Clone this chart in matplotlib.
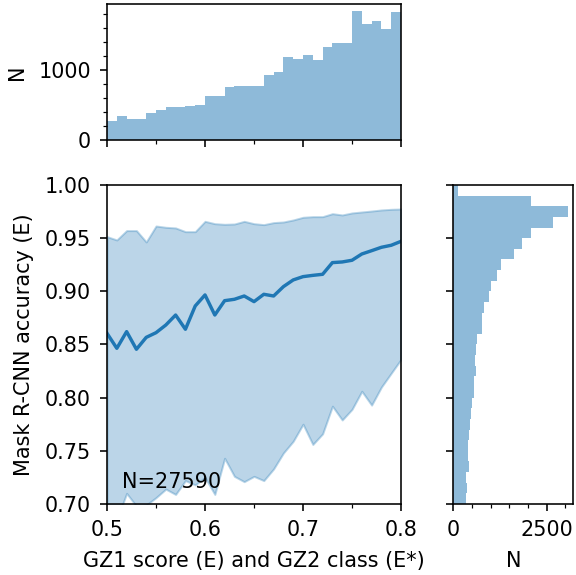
#!/usr/bin/env python3
"""Mask R-CNN accuracy against GZ1 score, with marginal count histograms."""

from __future__ import annotations

import matplotlib

matplotlib.use("Agg")
import matplotlib.pyplot as plt
import numpy as np
from matplotlib.ticker import MultipleLocator

FIGURE_PATH = "out.png"

plt.rcParams["font.size"] = 10.4
plt.rcParams["xtick.major.pad"] = 4.5
plt.rcParams["ytick.major.pad"] = 4.5
plt.rcParams["axes.labelpad"] = 5.5

# score grid (bin edges of the GZ1 score, step 0.01)
SCORE = np.round(np.arange(0.50, 0.8001, 0.01), 2)

# mean accuracy and spread at each score
ACC_MEAN = [0.8605, 0.8464, 0.8621, 0.8455, 0.8567, 0.8611, 0.8683, 0.8777,
            0.8643, 0.8862, 0.8966, 0.8777, 0.8912, 0.8925, 0.8956, 0.8903,
            0.8972, 0.8956, 0.9044, 0.9107, 0.9138, 0.9150, 0.9160, 0.9270,
            0.9276, 0.9292, 0.9351, 0.9382, 0.9414, 0.9433, 0.9470]
ACC_HIGH = [0.9514, 0.9483, 0.9571, 0.9571, 0.9464, 0.9614, 0.9602, 0.9596,
            0.9561, 0.9561, 0.9658, 0.9636, 0.9630, 0.9633, 0.9658, 0.9636,
            0.9627, 0.9646, 0.9652, 0.9671, 0.9696, 0.9702, 0.9702, 0.9730,
            0.9718, 0.9737, 0.9746, 0.9755, 0.9765, 0.9771, 0.9774]
ACC_LOW = [0.690, 0.685, 0.710, 0.698, 0.699, 0.706, 0.714, 0.709,
           0.722, 0.718, 0.725, 0.709, 0.743, 0.726, 0.721, 0.726,
           0.722, 0.733, 0.748, 0.759, 0.775, 0.756, 0.766, 0.792,
           0.779, 0.789, 0.806, 0.793, 0.810, 0.823, 0.836]

# galaxies per score bin (0.50-0.80, width 0.01)
SCORE_COUNTS = [276, 343, 295, 305, 386, 424, 476, 476, 486, 500,
                629, 629, 748, 762, 771, 762, 924, 971, 1186, 1157,
                1210, 1133, 1329, 1376, 1376, 1843, 1652, 1690, 1581, 1824]

# galaxies per accuracy bin (0.70-1.00, width 0.01)
ACC_COUNTS = [330, 357, 339, 410, 401, 384, 419, 446, 473, 491,
              553, 562, 598, 580, 598, 642, 767, 767, 821, 955,
              1008, 1178, 1276, 1624, 1847, 2080, 2677, 3062, 2080, 134]

N_TOTAL = 27590


def make_figure() -> None:
    fig = plt.figure(figsize=(4.0, 575 / 144), dpi=144)
    ax = fig.add_axes([0.1858, 0.1235, 0.5104, 0.5548])
    ax_top = fig.add_axes([0.1858, 0.7565, 0.5104, 0.2365], sharex=ax)
    ax_right = fig.add_axes([0.787, 0.1235, 0.2083, 0.5548], sharey=ax)

    # main panel: spread band and mean accuracy
    ax.fill_between(SCORE, ACC_LOW, ACC_HIGH, color="C0", alpha=0.3)
    ax.plot(SCORE, ACC_MEAN, color="C0", linewidth=1.7)
    ax.text(0.05, 0.05, f"N={N_TOTAL}", transform=ax.transAxes)
    ax.set_xlim(0.5, 0.8)
    ax.set_ylim(0.7, 1.0)
    ax.xaxis.set_major_locator(MultipleLocator(0.1))
    ax.xaxis.set_minor_locator(MultipleLocator(0.05))
    ax.yaxis.set_major_locator(MultipleLocator(0.05))
    ax.set_xlabel("GZ1 score (E) and GZ2 class (E*)")
    ax.set_ylabel("Mask R-CNN accuracy (E)")

    # marginal histogram of scores
    score_edges = np.round(np.arange(0.50, 0.8001, 0.01), 2)
    ax_top.hist(score_edges[:-1], bins=score_edges, weights=SCORE_COUNTS,
                color="C0", alpha=0.5)
    ax_top.yaxis.set_major_locator(MultipleLocator(1000))
    ax_top.yaxis.set_minor_locator(MultipleLocator(200))
    ax_top.set_ylabel("N")
    ax_top.tick_params(axis="x", labelbottom=False)

    # marginal histogram of accuracies
    acc_edges = np.round(np.arange(0.70, 1.0001, 0.01), 2)
    ax_right.hist(acc_edges[:-1], bins=acc_edges, weights=ACC_COUNTS,
                  orientation="horizontal", color="C0", alpha=0.5)
    ax_right.xaxis.set_major_locator(MultipleLocator(2500))
    ax_right.xaxis.set_minor_locator(MultipleLocator(500))
    ax_right.set_xlabel("N")
    ax_right.tick_params(axis="y", labelleft=False)
    ax_right.set_ylim(0.7, 1.0)

    fig.savefig(FIGURE_PATH, dpi=144)
    plt.close(fig)


def main() -> None:
    make_figure()


if __name__ == "__main__":
    main()
